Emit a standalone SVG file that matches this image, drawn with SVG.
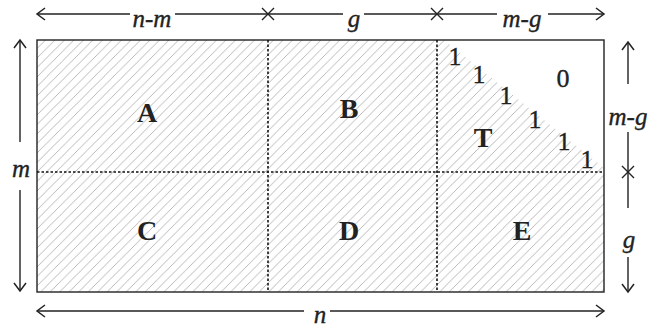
<svg xmlns="http://www.w3.org/2000/svg" width="649" height="328" viewBox="0 0 649 328">
<style>
.ln{stroke:#222;stroke-width:1.4;fill:none}
.dash{stroke:#111;stroke-width:1.6;stroke-dasharray:2.5 2;fill:none}
.it{font-family:"Liberation Serif","Times New Roman",serif;font-style:italic;font-size:25px;fill:#222;stroke:#222;stroke-width:0.35;text-anchor:middle}
.big{font-family:"Liberation Serif","Times New Roman",serif;font-weight:bold;font-size:28px;fill:#222;text-anchor:middle}
.num{font-family:"Liberation Serif","Times New Roman",serif;font-size:26px;fill:#222;stroke:#222;stroke-width:0.35;text-anchor:middle}
</style>
<defs>
<pattern id="hatch" patternUnits="userSpaceOnUse" width="9.5" height="9.5">
<line x1="-1" y1="10.5" x2="10.5" y2="-1" stroke="#a6a6a6" stroke-width="0.8"/>
</pattern>
<marker id="ah" markerWidth="12" markerHeight="14" refX="10" refY="7" orient="auto-start-reverse" markerUnits="userSpaceOnUse">
<path d="M2,1 L10,7 L2,13" fill="none" stroke="#222" stroke-width="1.5"/>
</marker>
</defs>
<g id="matrix">
<rect x="37" y="40" width="567" height="252" fill="url(#hatch)"/>
<polygon points="444,40 604,40 604,168" fill="#fff"/>
<rect x="37" y="40" width="567" height="252" class="ln"/>
<line x1="268" y1="40" x2="268" y2="292" class="dash"/>
<line x1="437" y1="40" x2="437" y2="292" class="dash"/>
<line x1="37" y1="172" x2="604" y2="172" class="dash"/>
</g>
<g id="A"><text x="147" y="122" class="big">A</text></g>
<g id="B"><text x="349" y="118" class="big">B</text></g>
<g id="T"><text x="483" y="147" class="big">T</text>
<text x="455" y="65" class="num">1</text>
<text x="479" y="83" class="num">1</text>
<text x="506" y="104" class="num">1</text>
<text x="535" y="128" class="num">1</text>
<text x="564" y="150" class="num">1</text>
<text x="587" y="168" class="num">1</text>
<text x="563" y="87" class="num">0</text>
</g>
<g id="C"><text x="147" y="240" class="big">C</text></g>
<g id="D"><text x="349" y="240" class="big">D</text></g>
<g id="E"><text x="522" y="240" class="big">E</text></g>
<g id="connectors">
<line x1="37" y1="14" x2="130" y2="14" class="ln" marker-start="url(#ah)"/>
<line x1="175" y1="14" x2="343" y2="14" class="ln"/>
<line x1="364" y1="14" x2="497" y2="14" class="ln"/>
<line x1="548" y1="14" x2="604" y2="14" class="ln" marker-end="url(#ah)"/>
<path d="M262,8 L274,20 M274,8 L262,20 M431,8 L443,20 M443,8 L431,20" class="ln"/>
<text x="152" y="27" class="it">n-m</text>
<text x="354" y="27" class="it">g</text>
<text x="522" y="27" class="it">m-g</text>
<line x1="20" y1="40" x2="20" y2="142" class="ln" marker-start="url(#ah)"/>
<line x1="20" y1="190" x2="20" y2="291" class="ln" marker-end="url(#ah)"/>
<text x="21" y="177" class="it">m</text>
<line x1="628" y1="42" x2="628" y2="84" class="ln" marker-start="url(#ah)"/>
<line x1="628" y1="132" x2="628" y2="208" class="ln"/>
<line x1="628" y1="257" x2="628" y2="292" class="ln" marker-end="url(#ah)"/>
<path d="M622,166 L634,178 M634,166 L622,178" class="ln"/>
<text x="628" y="125" class="it">m-g</text>
<text x="629" y="248" class="it">g</text>
<line x1="37" y1="311" x2="304" y2="311" class="ln" marker-start="url(#ah)"/>
<line x1="330" y1="311" x2="604" y2="311" class="ln" marker-end="url(#ah)"/>
<text x="320" y="323" class="it">n</text>
</g>
</svg>
